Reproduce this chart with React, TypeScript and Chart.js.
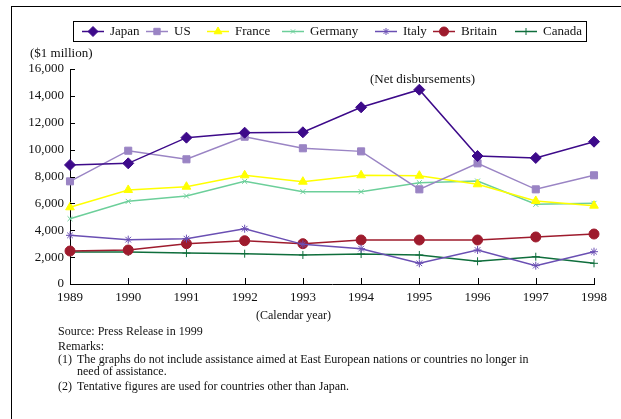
import React, { useEffect, useRef } from "react";
import { Chart, registerables } from "chart.js";
import { drawPoint } from "chart.js/helpers";

Chart.register(...registerables);

const years = ["1989", "1990", "1991", "1992", "1993", "1994", "1995", "1996", "1997", "1998"];
const japan = [8860, 8980, 10890, 11260, 11290, 13150, 14460, 9525, 9380, 10590];
const us = [7640, 9920, 9280, 10960, 10100, 9870, 7045, 8980, 7045, 8090];
const france = [5710, 7000, 7240, 8090, 7615, 8090, 8060, 7420, 6180, 5830];
const germany = [4860, 6150, 6550, 7640, 6870, 6870, 7540, 7665, 5930, 6005];
const italy = [3620, 3300, 3375, 4115, 2950, 2630, 1540, 2530, 1365, 2405];
const britain = [2455, 2530, 3000, 3220, 3000, 3275, 3275, 3275, 3500, 3720];
const canada = [2380, 2380, 2300, 2255, 2160, 2230, 2160, 1690, 2030, 1540];

const seriesNames = ["Japan", "US", "France", "Germany", "Italy", "Britain", "Canada"];
const seriesData = [japan, us, france, germany, italy, britain, canada];
const seriesColors = ["#3d0a8a", "#9a84c4", "#ffff00", "#6ccf9a", "#6a4fb3", "#9e1b2d", "#0f6e3c"];
const seriesStyles = ["rectRot", "rect", "triangle", "crossRot", "star", "circle", "cross"];
const seriesRadius = [5.5, 5, 5, 3.5, 4, 5, 4];

const legendStarts = [82, 146, 207, 282, 375, 433, 515];

const FONT = "'Liberation Serif', 'Times New Roman', serif";
const TEXT = "#111";

const extrasPlugin = {
  id: "extras",
  afterDraw(chart: any) {
    const ctx = chart.ctx;
    const area = chart.chartArea;
    const xs = chart.scales.x;
    const ys = chart.scales.y;
    ctx.save();
    ctx.strokeStyle = "#000";
    ctx.lineWidth = 1;
    ys.ticks.forEach((t: any) => {
      const y = Math.round(ys.getPixelForValue(t.value)) + 0.5;
      ctx.beginPath();
      ctx.moveTo(area.left, y);
      ctx.lineTo(area.left + 5, y);
      ctx.stroke();
    });
    years.forEach((_, i) => {
      const x = Math.round(xs.getPixelForValue(i)) + 0.5;
      ctx.beginPath();
      ctx.moveTo(x, area.bottom);
      ctx.lineTo(x, area.bottom - 6);
      ctx.stroke();
    });
    ctx.strokeStyle = "#000";
    ctx.strokeRect(73.5, 21.5, 513, 20);
    ctx.font = `13px ${FONT}`;
    ctx.textBaseline = "middle";
    ctx.fillStyle = TEXT;
    const ly = 31.5;
    chart.data.datasets.forEach((ds: any, i: number) => {
      const sx = legendStarts[i];
      ctx.strokeStyle = ds.borderColor;
      ctx.lineWidth = 1.5;
      ctx.beginPath();
      ctx.moveTo(sx, ly);
      ctx.lineTo(sx + 22, ly);
      ctx.stroke();
      ctx.fillStyle = ds.backgroundColor;
      ctx.lineWidth = 1;
      drawPoint(ctx, { pointStyle: ds.pointStyle, radius: ds.pointRadius - 0.5, rotation: 0, borderWidth: 1 } as any, sx + 11, ly);
      ctx.fillStyle = TEXT;
      ctx.fillText(ds.label, sx + 28, ly + 0.5);
    });
    ctx.restore();
  },
};

export default function App() {
  const ref = useRef<HTMLCanvasElement>(null);
  useEffect(() => {
    if (!ref.current) return;
    const chart = new Chart(ref.current, {
      type: "line",
      data: {
        labels: years,
        datasets: seriesNames.map((name, i) => ({
          label: name,
          data: seriesData[i],
          borderColor: seriesColors[i],
          backgroundColor: seriesColors[i],
          borderWidth: 1.5,
          pointStyle: seriesStyles[i] as any,
          pointRadius: seriesRadius[i],
          pointBorderWidth: 1,
          tension: 0,
        })),
      },
      options: {
        animation: false,
        responsive: false,
        layout: { padding: { top: 69, right: 27, left: 0, bottom: 0 } },
        plugins: { legend: { display: false }, tooltip: { enabled: false } },
        scales: {
          x: {
            grid: { display: false, drawTicks: false },
            border: { display: true, color: "#000", width: 1 },
            ticks: { font: { family: FONT, size: 13 }, color: TEXT, padding: 6, maxRotation: 0, autoSkip: false },
            afterFit: (s: any) => {
              s.height = 135;
            },
          },
          y: {
            min: 0,
            max: 16000,
            grid: { display: false, drawTicks: false },
            border: { display: true, color: "#000", width: 1 },
            ticks: {
              stepSize: 2000,
              font: { family: FONT, size: 13 },
              color: TEXT,
              padding: 6,
              callback: (v: any) => Number(v).toLocaleString("en-US"),
            },
            afterFit: (s: any) => {
              s.width = 70;
            },
          },
        },
      },
      plugins: [extrasPlugin],
    });
    return () => chart.destroy();
  }, []);

  const txt = (left: number, top: number, s: string, size = 12) => (
    <div
      style={{
        position: "absolute",
        left,
        top,
        fontFamily: FONT,
        fontSize: size,
        lineHeight: "15px",
        color: TEXT,
        whiteSpace: "nowrap",
      }}
    >
      {s}
    </div>
  );

  return (
    <div style={{ position: "fixed", left: 0, top: 0, width: 621, height: 419, background: "#fff", overflow: "hidden" }}>
      <div style={{ position: "absolute", left: 11, top: 6, width: 620, height: 420, borderTop: "1px solid #000", borderLeft: "1px solid #000" }} />
      <canvas ref={ref} width={621} height={419} style={{ position: "absolute", left: 0, top: 0, width: 621, height: 419 }} />
      {txt(30, 45, "($1 million)", 13)}
      {txt(370, 71, "(Net disbursements)", 13)}
      {txt(256, 308, "(Calendar year)")}
      {txt(58, 324, "Source: Press Release in 1999")}
      {txt(58, 339, "Remarks:")}
      {txt(58, 352, "(1)")}
      {txt(77, 352, "The graphs do not include assistance aimed at East European nations or countries no longer in")}
      {txt(77, 364, "need of assistance.")}
      {txt(58, 379, "(2)")}
      {txt(77, 379, "Tentative figures are used for countries other than Japan.")}
    </div>
  );
}
